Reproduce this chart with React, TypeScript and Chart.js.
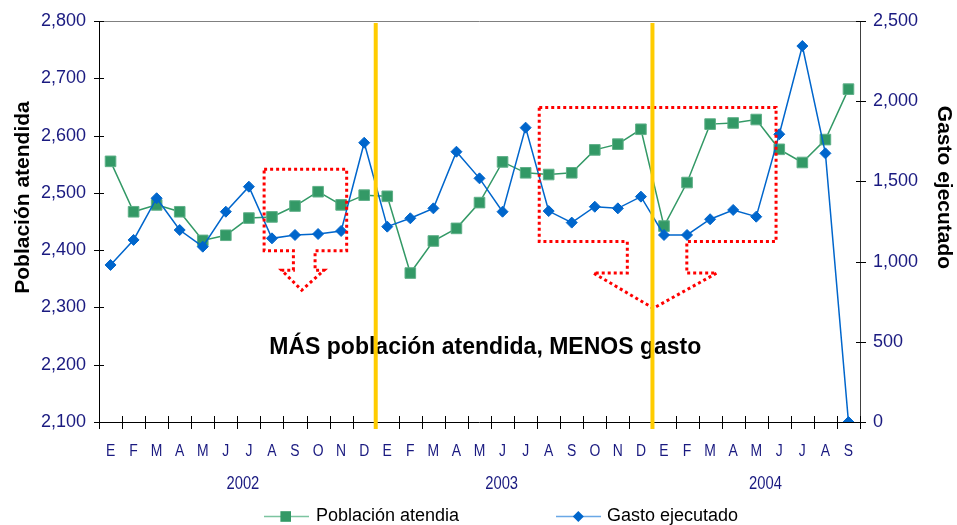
import React, { useEffect, useRef } from "react";
import { Chart, registerables } from "chart.js";

Chart.register(...registerables);

const months = [
  "E", "F", "M", "A", "M", "J", "J", "A", "S", "O", "N", "D",
  "E", "F", "M", "A", "M", "J", "J", "A", "S", "O", "N", "D",
  "E", "F", "M", "A", "M", "J", "J", "A", "S",
];

const poblacion = [
  2555, 2467, 2479, 2467, 2417, 2426, 2456, 2458, 2477, 2502, 2479, 2496,
  2494, 2360, 2416, 2438, 2483, 2554, 2535, 2532, 2535, 2575, 2585, 2611,
  2442, 2518, 2620, 2622, 2628, 2576, 2553, 2593, 2681,
];

const gasto = [
  979, 1135, 1395, 1197, 1093, 1311, 1467, 1145, 1166, 1172, 1191, 1741,
  1218, 1270, 1332, 1685, 1519, 1311, 1835, 1315, 1243, 1342, 1332, 1405,
  1166, 1166, 1264, 1322, 1280, 1794, 2344, 1675, 0,
];

const years = ["2002", "2003", "2004"];
const yearCenters = [6.24, 17.46, 28.9]; // in category units from left edge
const yearDividers = [12, 24]; // category boundaries

const leftTicks = [2100, 2200, 2300, 2400, 2500, 2600, 2700, 2800];
const rightTicks = [0, 500, 1000, 1500, 2000, 2500];

const seriesNames = ["Población atendia", "Gasto ejecutado"];
const annotationText = "MÁS población atendida, MENOS gasto";

// arrow-box annotations: category units (x) and left-axis values (y)
const arrowBoxes = [
  { l: 7.16, r: 10.74, t: 2541, b: 2399, sl: 8.43, sr: 9.37, sb: 2365, hl: 7.92, hr: 9.76, tx: 8.79, ty: 2330 },
  { l: 19.09, r: 29.36, t: 2649, b: 2415, sl: 22.91, sr: 25.49, sb: 2360, hl: 21.44, hr: 26.79, tx: 24.04, ty: 2298.5 },
];

const GREEN = "#339966";
const BLUE = "#0066CC";
const NAVY = "#1a1a80";
const FONT = "'Liberation Sans', Arial, sans-serif";

const fmt = (v: number) => v.toLocaleString("en-US");

const decoPlugin = {
  id: "deco",
  beforeDatasetsDraw(chart: any) {
    const { ctx, chartArea: ca, scales } = chart;
    const x = scales.x;
    const y = scales.y;
    const y1 = scales.y1;
    const catW = x.getPixelForValue(1) - x.getPixelForValue(0);
    const xAt = (c: number) => x.getPixelForValue(0) + (c - 0.5) * catW;
    ctx.save();
    // top border
    ctx.strokeStyle = "#808080";
    ctx.lineWidth = 1;
    ctx.beginPath();
    ctx.moveTo(ca.left, ca.top + 0.5);
    ctx.lineTo(ca.right, ca.top + 0.5);
    ctx.stroke();
    // axes
    ctx.strokeStyle = "#000";
    ctx.beginPath();
    ctx.moveTo(ca.left + 0.5, ca.top);
    ctx.lineTo(ca.left + 0.5, ca.bottom);
    ctx.moveTo(ca.left, ca.bottom + 0.5);
    ctx.lineTo(ca.right, ca.bottom + 0.5);
    ctx.stroke();
    ctx.strokeStyle = "#404040";
    ctx.beginPath();
    ctx.moveTo(ca.right + 0.5, ca.top);
    ctx.lineTo(ca.right + 0.5, ca.bottom);
    ctx.stroke();
    // ticks
    ctx.strokeStyle = "#000";
    ctx.beginPath();
    leftTicks.forEach((v) => {
      const py = Math.round(y.getPixelForValue(v)) + 0.5;
      ctx.moveTo(ca.left - 5, py);
      ctx.lineTo(ca.left + 5, py);
    });
    rightTicks.forEach((v) => {
      const py = Math.round(y1.getPixelForValue(v)) + 0.5;
      ctx.moveTo(ca.right - 4, py);
      ctx.lineTo(ca.right + 6, py);
    });
    for (let c = 0; c <= months.length; c++) {
      const px = Math.round(xAt(c)) + 0.5;
      ctx.moveTo(px, ca.bottom - 6);
      ctx.lineTo(px, ca.bottom + 7);
    }
    ctx.stroke();
    // tick labels
    ctx.fillStyle = NAVY;
    ctx.font = `18px ${FONT}`;
    ctx.textBaseline = "middle";
    ctx.textAlign = "right";
    leftTicks.forEach((v) => ctx.fillText(fmt(v), ca.left - 13, y.getPixelForValue(v)));
    ctx.textAlign = "left";
    rightTicks.forEach((v) => ctx.fillText(fmt(v), ca.right + 13, y1.getPixelForValue(v)));
    // month labels (narrow)
    ctx.font = `16px ${FONT}`;
    ctx.textAlign = "center";
    ctx.textBaseline = "alphabetic";
    months.forEach((m, i) => {
      const px = x.getPixelForValue(i);
      ctx.save();
      ctx.translate(px, ca.bottom + 34);
      ctx.scale(0.87, 1);
      ctx.fillText(m, 0, 0);
      ctx.restore();
    });
    ctx.font = `18px ${FONT}`;
    years.forEach((yr, i) => {
      ctx.save();
      ctx.translate(xAt(yearCenters[i]), ca.bottom + 67);
      ctx.scale(0.82, 1);
      ctx.fillText(yr, 0, 0);
      ctx.restore();
    });
    // axis titles
    ctx.fillStyle = "#000";
    ctx.font = `bold 21px ${FONT}`;
    ctx.textAlign = "center";
    ctx.textBaseline = "alphabetic";
    ctx.save();
    ctx.translate(29, 197.5);
    ctx.rotate(-Math.PI / 2);
    ctx.fillText("Población atendida", 0, 0);
    ctx.restore();
    ctx.save();
    ctx.translate(937.5, 187.5);
    ctx.rotate(Math.PI / 2);
    ctx.fillText("Gasto ejecutado", 0, 0);
    ctx.restore();
    ctx.restore();
  },
  afterDatasetsDraw(chart: any) {
    const { ctx, chartArea: ca, scales } = chart;
    const x = scales.x;
    const y = scales.y;
    const catW = x.getPixelForValue(1) - x.getPixelForValue(0);
    const xAt = (c: number) => x.getPixelForValue(0) + (c - 0.5) * catW;
    const yAt = (v: number) => y.getPixelForValue(v);
    ctx.save();
    // red dotted arrow boxes
    ctx.strokeStyle = "#ff0000";
    ctx.lineWidth = 3;
    ctx.setLineDash([3, 3]);
    arrowBoxes.forEach((a) => {
      ctx.beginPath();
      ctx.moveTo(xAt(a.l), yAt(a.t));
      ctx.lineTo(xAt(a.r), yAt(a.t));
      ctx.lineTo(xAt(a.r), yAt(a.b));
      ctx.lineTo(xAt(a.sr), yAt(a.b));
      ctx.lineTo(xAt(a.sr), yAt(a.sb));
      ctx.lineTo(xAt(a.hr), yAt(a.sb));
      ctx.lineTo(xAt(a.tx), yAt(a.ty));
      ctx.lineTo(xAt(a.hl), yAt(a.sb));
      ctx.lineTo(xAt(a.sl), yAt(a.sb));
      ctx.lineTo(xAt(a.sl), yAt(a.b));
      ctx.lineTo(xAt(a.l), yAt(a.b));
      ctx.closePath();
      ctx.stroke();
    });
    ctx.setLineDash([]);
    // annotation text
    ctx.fillStyle = "#000";
    ctx.font = `bold 23px ${FONT}`;
    ctx.textAlign = "center";
    ctx.textBaseline = "alphabetic";
    ctx.fillText(annotationText, xAt(16.75), yAt(2219));
    // yellow dividers
    ctx.strokeStyle = "#FFCC00";
    ctx.lineWidth = 4;
    yearDividers.forEach((c) => {
      const px = xAt(c);
      ctx.beginPath();
      ctx.moveTo(px, ca.top + 2);
      ctx.lineTo(px, ca.bottom + 7);
      ctx.stroke();
    });
    // legend
    const ly = 516.5;
    ctx.lineWidth = 1.5;
    ctx.strokeStyle = "#7cc4a0";
    ctx.beginPath();
    ctx.moveTo(264, ly);
    ctx.lineTo(309, ly);
    ctx.stroke();
    ctx.fillStyle = GREEN;
    ctx.fillRect(285.7 - 5.3, ly - 5.3, 10.6, 10.6);
    ctx.strokeStyle = "#6aa8e6";
    ctx.beginPath();
    ctx.moveTo(556, ly);
    ctx.lineTo(601, ly);
    ctx.stroke();
    ctx.fillStyle = BLUE;
    ctx.beginPath();
    ctx.moveTo(578.3, ly - 5.5);
    ctx.lineTo(583.8, ly);
    ctx.lineTo(578.3, ly + 5.5);
    ctx.lineTo(572.8, ly);
    ctx.closePath();
    ctx.fill();
    ctx.fillStyle = "#000";
    ctx.font = `18px ${FONT}`;
    ctx.textAlign = "left";
    ctx.textBaseline = "middle";
    ctx.fillText(seriesNames[0], 316, ly);
    ctx.fillText(seriesNames[1], 607, ly);
    ctx.restore();
  },
};

export default function App() {
  const ref = useRef<HTMLCanvasElement>(null);
  useEffect(() => {
    if (!ref.current) return;
    const chart = new Chart(ref.current, {
      type: "line",
      data: {
        labels: months,
        datasets: [
          {
            label: seriesNames[1],
            data: gasto,
            yAxisID: "y1",
            order: 0,
            borderColor: BLUE,
            backgroundColor: BLUE,
            borderWidth: 1.5,
            pointStyle: "rectRot",
            pointRadius: 5.5,
            pointBorderWidth: 1,
            pointBackgroundColor: BLUE,
            pointBorderColor: BLUE,
            tension: 0,
          },
          {
            label: seriesNames[0],
            data: poblacion,
            yAxisID: "y",
            order: 1,
            borderColor: GREEN,
            backgroundColor: GREEN,
            borderWidth: 1.5,
            pointStyle: "rect",
            pointRadius: 7.5,
            pointBorderWidth: 1,
            pointBackgroundColor: GREEN,
            pointBorderColor: "#5fb088",
            tension: 0,
          },
        ],
      },
      options: {
        responsive: false,
        animation: false,
        layout: { padding: { top: 21, left: 0, right: 0, bottom: 0 } },
        plugins: { legend: { display: false }, tooltip: { enabled: false } },
        scales: {
          x: {
            type: "category",
            offset: true,
            grid: { display: false },
            border: { display: false },
            ticks: { display: false },
            afterFit: (s: any) => { s.height = 103; },
          },
          y: {
            position: "left",
            min: 2100,
            max: 2800,
            ticks: { display: false, stepSize: 100 },
            grid: { display: false },
            border: { display: false },
            afterFit: (s: any) => { s.width = 99; },
          },
          y1: {
            position: "right",
            min: 0,
            max: 2500,
            ticks: { display: false, stepSize: 500 },
            grid: { display: false },
            border: { display: false },
            afterFit: (s: any) => { s.width = 97; },
          },
        },
      },
      plugins: [decoPlugin],
    } as any);
    return () => chart.destroy();
  }, []);
  return (
    <div style={{ position: "absolute", left: 0, top: 0, width: 957, height: 525 }}>
      <canvas ref={ref} width={957} height={525} style={{ display: "block" }} />
    </div>
  );
}
